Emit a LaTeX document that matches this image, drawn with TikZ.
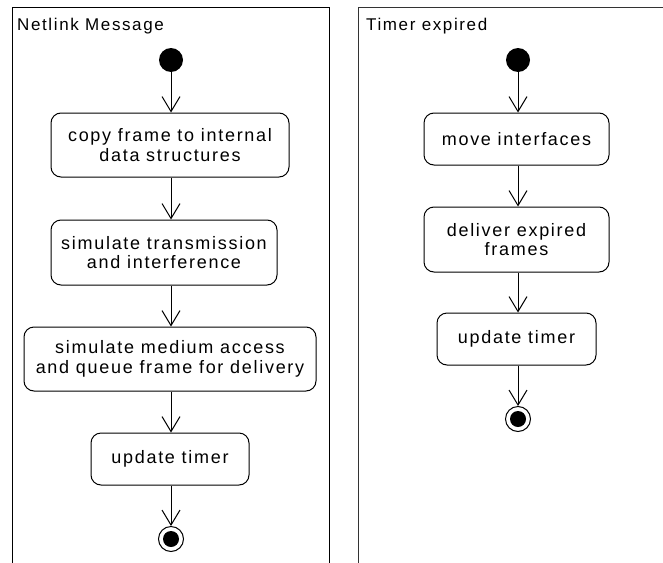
\documentclass[tikz,border=0pt]{standalone}
\usepackage{fontspec}
\setmainfont{Liberation Sans}[LetterSpace=9.5]
\usetikzlibrary{arrows.meta}
\tikzset{
  act/.style={draw, line width=1pt, rounded corners=10pt, align=center,
    inner sep=0pt, font=\fontsize{18pt}{19.5pt}\selectfont},
  startdot/.style={circle, fill=black, minimum size=24pt, inner sep=0pt},
  enddot/.style={circle, draw, line width=1pt, minimum size=25pt, inner sep=0pt,
    path picture={\fill[black] (path picture bounding box.center) circle (8pt);}},
  flow/.style={line width=1pt, -{Straight Barb[length=15pt,width=18pt,line width=1pt]}},
  frametitle/.style={anchor=base west, inner sep=0pt, font=\fontsize{17pt}{20pt}\selectfont},
  frameline/.style={line width=1pt}
}
\begin{document}
\begin{tikzpicture}[x=1pt,y=-1pt]
\useasboundingbox (0,0) rectangle (663,562);

% left activity: handling of a netlink message
\draw[frameline] (12,565) -- (12,7) -- (329,7) -- (329,565);
\node[frametitle] (t1) at (17,30) {Netlink Message};
\node[startdot] (s1) at (171,60) {};
\node[act, minimum width=238pt, minimum height=64pt] (a1) at (170,145)
  {copy frame to internal\\data structures};
\node[act, minimum width=226pt, minimum height=65pt] (a2) at (164,252.5)
  {simulate transmission\\and interference};
\node[act, minimum width=292pt, minimum height=64pt] (a3) at (170,359)
  {simulate medium access\\and queue frame for delivery};
\node[act, minimum width=158pt, minimum height=52pt] (a4) at (170,459)
  {update timer};
\node[enddot] (e1) at (171,539) {};
\draw[flow] (s1) -- (s1 |- a1.north);
\draw[flow] (s1 |- a1.south) -- (s1 |- a2.north);
\draw[flow] (s1 |- a2.south) -- (s1 |- a3.north);
\draw[flow] (s1 |- a3.south) -- (s1 |- a4.north);
\draw[flow] (s1 |- a4.south) -- (e1);

% right activity: timer expiry
\draw[frameline, black!80] (358,565) -- (358,7) -- (665,7);
\node[frametitle] (t2) at (366,30) {Timer expired};
\node[startdot] (s2) at (518,60) {};
\node[act, minimum width=185pt, minimum height=52pt] (b1) at (516.5,139)
  {move interfaces};
\node[act, minimum width=185pt, minimum height=65pt] (b2) at (516.5,239.5)
  {deliver expired\\frames};
\node[act, minimum width=159pt, minimum height=52pt] (b3) at (516.5,339)
  {update timer};
\node[enddot] (e2) at (518,419) {};
\draw[flow] (s2) -- (s2 |- b1.north);
\draw[flow] (s2 |- b1.south) -- (s2 |- b2.north);
\draw[flow] (s2 |- b2.south) -- (s2 |- b3.north);
\draw[flow] (s2 |- b3.south) -- (e2);
\end{tikzpicture}
\end{document}
